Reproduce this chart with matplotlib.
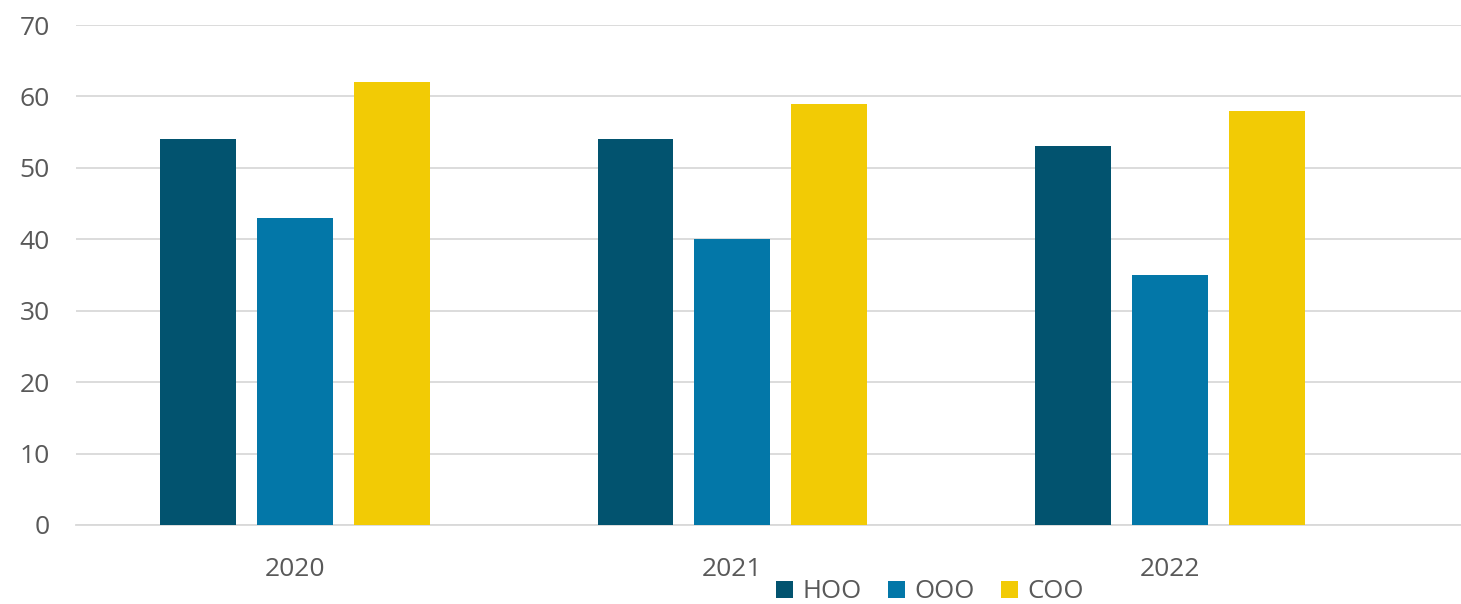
import matplotlib.pyplot as plt
import numpy as np

years = ["2020", "2021", "2022"]
series = ["HOO", "OOO", "COO"]
hoo = [54, 54, 53]
ooo = [43, 40, 35]
coo = [62, 59, 58]
colors = ["#02536F", "#0377A8", "#F2CB05"]

plt.rcParams["font.family"] = ["Open Sans", "DejaVu Sans"]

fig = plt.figure(figsize=(14.61, 6.04), dpi=100)
ax = fig.add_axes([76 / 1461, 1 - 525 / 604, 1 - 76 / 1461, 500 / 604])

x = np.arange(len(years))
w = 76 / 438
off = 97 / 438
for i, (vals, name) in enumerate(zip([hoo, ooo, coo], series)):
    ax.bar(x + (i - 1) * off, vals, w, color=colors[i], label=name, zorder=3)

ax.set_xlim(-0.5, 2.665)
ax.set_ylim(0, 70)
ax.set_yticks(range(0, 71, 10))
ax.set_xticks(x)
ax.set_xticklabels(years)
ax.yaxis.grid(True, color="#D9D9D9", linewidth=1.3, zorder=0)
for s in ["top", "right", "left"]:
    ax.spines[s].set_visible(False)
ax.spines["bottom"].set_color("#D9D9D9")
ax.spines["bottom"].set_linewidth(1.3)
ax.tick_params(axis="both", length=0, labelsize=19, labelcolor="#595959")
ax.tick_params(axis="x", pad=23)
ax.tick_params(axis="y", pad=19)

fig.legend(loc="center", bbox_to_anchor=(930 / 1461, 1 - 592 / 604), ncol=3,
           frameon=False, fontsize=18.5, labelcolor="#595959",
           handlelength=0.65, handleheight=0.65, handletextpad=0.35, columnspacing=1.05)

fig.savefig("out.png", dpi=100)
